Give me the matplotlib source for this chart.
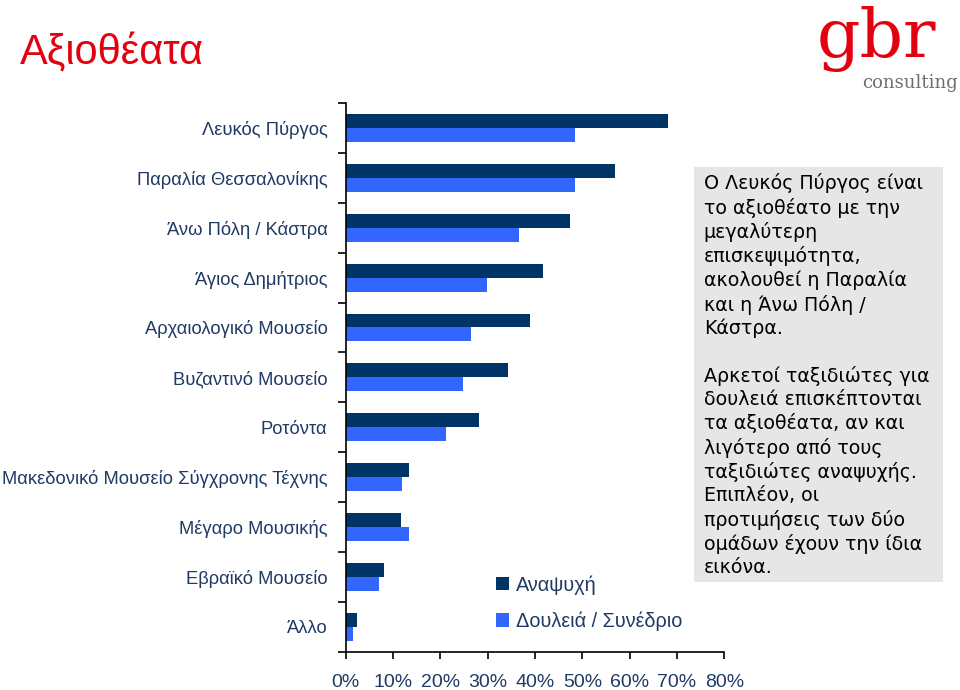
import matplotlib.pyplot as plt
import numpy as np
from matplotlib.ticker import FixedLocator

# data
categories = ['Λευκός Πύργος', 'Παραλία Θεσσαλονίκης', 'Άνω Πόλη / Κάστρα',
              'Άγιος Δημήτριος', 'Αρχαιολογικό Μουσείο', 'Βυζαντινό Μουσείο',
              'Ροτόντα', 'Μακεδονικό Μουσείο Σύγχρονης Τέχνης', 'Μέγαρο Μουσικής',
              'Εβραϊκό Μουσείο', 'Άλλο']
leisure = [68, 57, 47.5, 41.7, 39, 34.4, 28.2, 13.4, 11.8, 8.1, 2.5]
business = [48.5, 48.5, 36.7, 29.9, 26.5, 24.9, 21.3, 12.0, 13.4, 7.1, 1.5]
series_names = ['Αναψυχή', 'Δουλειά / Συνέδριο']
xticks = [0, 10, 20, 30, 40, 50, 60, 70, 80]

dark = '#003366'
light = '#3366FF'
navy_txt = '#1F3A64'

plt.rcParams['font.family'] = ['Liberation Sans', 'DejaVu Sans']

fig = plt.figure(figsize=(9.6, 6.9), dpi=100)
ax = fig.add_axes([0.360, 0.0555, 0.3945, 0.7952])

y = np.arange(len(categories))
h = 0.28
b1 = ax.barh(y - h / 2, leisure, height=h, color=dark, label=series_names[0])
b2 = ax.barh(y + h / 2, business, height=h, color=light, label=series_names[1])

ax.set_xlim(0, 80)
ax.set_ylim(len(categories) - 0.5, -0.5)
for s in ['top', 'right']:
    ax.spines[s].set_visible(False)
ax.spines['left'].set_linewidth(1.2)
ax.spines['bottom'].set_linewidth(1.2)

ax.set_xticks(xticks)
ax.set_xticklabels([f'{t}%' for t in xticks], fontsize=14, color=navy_txt)
ax.tick_params(axis='x', direction='out', length=5, width=1.2, pad=11)

ax.set_yticks(y)
ax.set_yticklabels(categories, fontsize=13.2, color=navy_txt)
ax.tick_params(axis='y', which='major', length=0, pad=13)
ax.yaxis.set_minor_locator(FixedLocator(np.arange(-0.5, len(categories), 1.0)))
ax.tick_params(axis='y', which='minor', direction='out', length=6, width=1.2)

# legend
ax.legend(handles=[b1, b2], loc='lower left', bbox_to_anchor=(0.35, 0.005),
          frameon=False, fontsize=14.3, handlelength=0.65, handleheight=0.65,
          handletextpad=0.35, labelspacing=0.85, labelcolor=navy_txt)

# title
fig.text(0.021, 0.924, 'Αξιοθέατα', fontsize=30, color='#E3000F', va='center', ha='left')

# logo
fig.text(0.851, 0.943, 'gbr', fontsize=49, color='#E3000F', family='DejaVu Serif',
         va='center', ha='left')
fig.text(0.898, 0.879, 'consulting', fontsize=13, color='#6E6E6E', family='DejaVu Serif',
         va='center', ha='left')

# commentary box
box_txt = ('Ο Λευκός Πύργος είναι\nτο αξιοθέατο με την\nμεγαλύτερη\nεπισκεψιμότητα,\n'
           'ακολουθεί η Παραλία\nκαι η Άνω Πόλη /\nΚάστρα.\n\n'
           'Αρκετοί ταξιδιώτες για\nδουλειά επισκέπτονται\nτα αξιοθέατα, αν και\n'
           'λιγότερο από τους\nταξιδιώτες αναψυχής.\nΕπιπλέον, οι\n'
           'προτιμήσεις των δύο\nομάδων έχουν την ίδια\nεικόνα.')
fig.patches.append(plt.Rectangle((0.723, 0.157), 0.259, 0.601, transform=fig.transFigure,
                                 facecolor='#E6E6E6', edgecolor='none', zorder=0))
fig.text(0.733, 0.749, box_txt, fontsize=13.7, color='black', family='DejaVu Sans',
         va='top', ha='left', linespacing=1.275)

fig.savefig('out.png', dpi=100)
